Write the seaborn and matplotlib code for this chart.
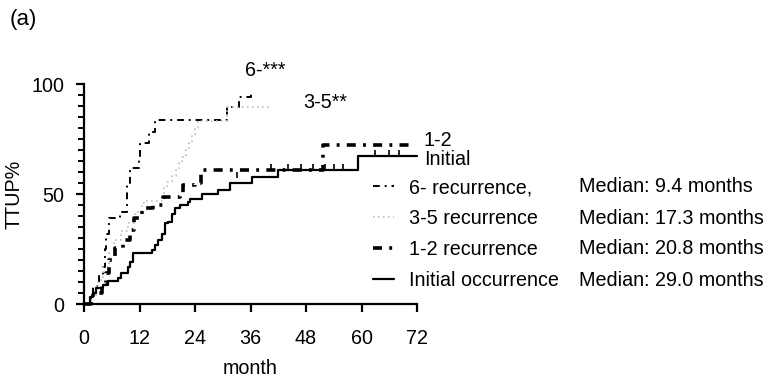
import numpy as np
import pandas as pd
import matplotlib
matplotlib.use("Agg")
import matplotlib.pyplot as plt
import seaborn as sns
from matplotlib.ticker import MultipleLocator

# step curves: (month, cumulative TTUP %)
init_t = [0, 1.3, 2.0, 2.7, 4.2, 5.2, 7.4, 8.1, 9.6, 10.0, 10.7, 14.6, 15.4, 16.0, 16.8, 17.5,
          18.2, 19.0, 19.7, 20.8, 22.5, 23.0, 25.6, 29.0, 31.6, 36.3, 42.0, 59.3, 72.0]
init_y = [0, 3.3, 4.9, 7.1, 8.6, 10.5, 12.0, 14.0, 17.0, 19.0, 23.0, 24.5, 27.0, 29.0, 32.0, 37.0,
          37.5, 41.0, 43.5, 45.0, 46.5, 47.6, 49.8, 52.0, 54.8, 57.6, 61.0, 67.5, 67.5]

r12_t = [0, 1.5, 2.0, 3.8, 4.8, 5.4, 6.7, 8.4, 10.0, 10.8, 12.5, 14.9, 17.0, 20.8, 21.5, 24.0,
         25.4, 51.7, 71.0]
r12_y = [0, 2.0, 5.0, 9.5, 14.0, 20.0, 25.5, 29.0, 33.6, 39.0, 43.6, 45.0, 48.8, 50.3, 54.0, 55.0,
         61.0, 72.5, 72.5]

r35_t = [0, 1.5, 2.5, 3.0, 4.0, 5.5, 6.5, 8.0, 9.5, 11.0, 12.5, 13.0, 17.3, 18.0, 19.0, 19.8,
         20.5, 21.2, 22.0, 22.7, 23.4, 24.0, 24.7, 31.0, 40.0]
r35_y = [0, 3.0, 8.0, 11.0, 17.0, 23.0, 29.0, 33.0, 37.0, 42.0, 46.0, 47.0, 52.7, 55.5, 58.0, 61.0,
         64.0, 67.0, 70.0, 73.0, 77.0, 80.0, 83.3, 89.7, 89.7]

r6_t = [0, 1.5, 2.0, 3.3, 4.0, 4.5, 4.7, 5.4, 7.8, 9.4, 10.0, 11.8, 12.2, 14.0, 15.4, 31.0,
        33.5, 36.0, 36.5]
r6_y = [0, 3.0, 8.0, 13.0, 17.0, 25.0, 32.0, 39.0, 42.0, 55.0, 62.0, 66.0, 73.0, 78.0, 83.6, 89.5,
        94.0, 96.5, 96.5]

init_cens_t = [33.0, 40.5, 44.0, 47.0, 49.5, 52.0, 54.0, 56.0, 63.0, 66.0, 68.0]
init_cens_y = [57.6, 61.0, 61.0, 61.0, 61.0, 61.0, 61.0, 61.0, 67.5, 67.5, 67.5]

legend_labels = ["6- recurrence,", "3-5 recurrence", "1-2 recurrence", "Initial occurrence"]
medians = ["Median: 9.4 months", "Median: 17.3 months", "Median: 20.8 months", "Median: 29.0 months"]

FS = 14.2

sns.set_style("ticks")
plt.rcParams['font.family'] = ['Liberation Sans', 'DejaVu Sans']
plt.rcParams['font.size'] = FS
for k in ['text.color', 'axes.labelcolor', 'xtick.color', 'ytick.color', 'axes.edgecolor']:
    plt.rcParams[k] = 'black'

fig = plt.figure(figsize=(7.69, 3.78), dpi=100)
ax = fig.add_axes([84 / 769, 74 / 378, 333 / 769, 220 / 378])

curves = [
    (r6_t, r6_y, dict(color='black', lw=1.4, dashes=(3.5, 2.5, 1, 2.5))),
    (r35_t, r35_y, dict(color='#bdbdbd', lw=1.2, dashes=(1, 2))),
    (r12_t, r12_y, dict(color='black', lw=2.6, dashes=(2.5, 2, 0.8, 2))),
    (init_t, init_y, dict(color='black', lw=1.6)),
]
handles = []
for (t, y, kw), lab in zip(curves, legend_labels):
    sns.lineplot(x=t, y=y, drawstyle='steps-post', estimator=None, sort=False,
                 ax=ax, clip_on=False, **kw)
    handles.append(ax.lines[-1])

sns.scatterplot(x=init_cens_t, y=[v + 1.2 for v in init_cens_y], marker='|', s=25,
                color='black', linewidth=1.2, ax=ax, clip_on=False)

ax.set_xlim(0, 72)
ax.set_ylim(0, 100)
ax.set_xticks(range(0, 73, 12))
ax.set_yticks([0, 50, 100])
ax.yaxis.set_minor_locator(MultipleLocator(5))
for side in ['top', 'right']:
    ax.spines[side].set_visible(False)
for side in ['left', 'bottom']:
    ax.spines[side].set_linewidth(1.6)
ax.tick_params(which='major', length=6, width=1.6, labelsize=FS)
ax.tick_params(axis='x', which='major', pad=12)
ax.tick_params(axis='y', which='major', pad=8)
ax.tick_params(which='minor', length=4, width=1.4)
ax.set_xlabel('month', fontsize=FS, labelpad=8)
ax.set_ylabel('TTUP%', fontsize=FS, labelpad=6)

# curve end labels
ax.text(34.8, 106, '6-***', fontsize=FS, clip_on=False, va='center')
ax.text(47.5, 91.5, '3-5**', fontsize=FS, clip_on=False, va='center')
ax.text(73.5, 72.0, '1-2', fontsize=FS, clip_on=False, va='baseline')
ax.text(73.5, 63.4, 'Initial', fontsize=FS, clip_on=False, va='baseline')

leg = ax.legend(handles, legend_labels, frameon=False, loc='upper left',
                bbox_to_anchor=(373 / 769, 200 / 378), bbox_transform=fig.transFigure,
                handlelength=1.05, handletextpad=0.8, labelspacing=0.6, fontsize=FS,
                borderaxespad=0, borderpad=0)

for i, m in enumerate(medians):
    fig.text(579 / 769, 1 - (187 + 31 * i) / 378, m, fontsize=FS, va='center', ha='left')

fig.text(10 / 769, 1 - 20 / 378, '(a)', fontsize=16, va='center', ha='left')

fig.savefig('out.png', dpi=100)
